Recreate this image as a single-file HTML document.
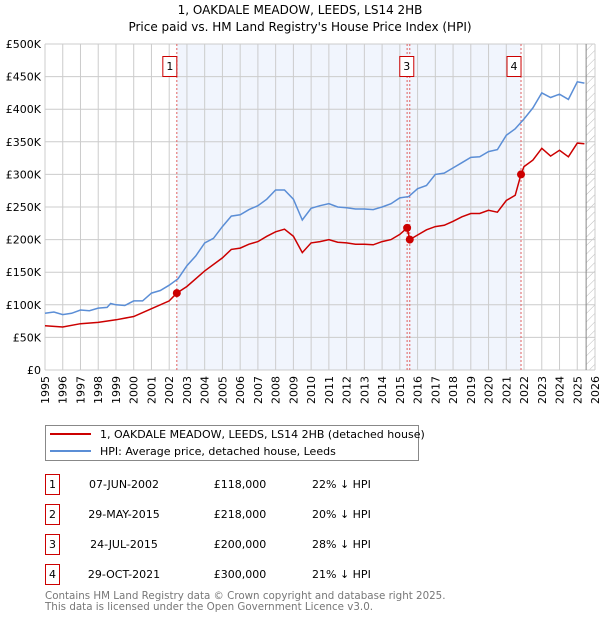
<!DOCTYPE html>
<html><head><meta charset="utf-8">
<style>
body{margin:0;background:#fff;font-family:"Liberation Sans","DejaVu Sans",sans-serif;}
svg text{font-family:"DejaVu Sans","Liberation Sans",sans-serif;}
</style></head>
<body>
<svg id="chart" width="600" height="620">
<text x="300" y="14" text-anchor="middle" font-size="12">1, OAKDALE MEADOW, LEEDS, LS14 2HB</text>
<text x="300" y="31" text-anchor="middle" font-size="12">Price paid vs. HM Land Registry's House Price Index (HPI)</text>
<g id="plot"></g>
<g>
<rect x="45.5" y="425.5" width="373" height="35" fill="#fff" stroke="#888"/>
<line x1="50" y1="434" x2="91" y2="434" stroke="#cc0000" stroke-width="2"/>
<text x="100" y="438" font-size="11">1, OAKDALE MEADOW, LEEDS, LS14 2HB (detached house)</text>
<line x1="50" y1="451" x2="91" y2="451" stroke="#5b8ed6" stroke-width="2"/>
<text x="100" y="455" font-size="11">HPI: Average price, detached house, Leeds</text>
</g>
<g id="table" font-size="11"></g>
<text x="45" y="599" font-size="10.3" fill="#777">Contains HM Land Registry data © Crown copyright and database right 2025.</text>
<text x="45" y="610" font-size="10.3" fill="#777">This data is licensed under the Open Government Licence v3.0.</text>
</svg>
<script>
const hpiYears=[1995,1995.5,1996,1996.5,1997,1997.5,1998,1998.5,1998.7,1999,1999.5,2000,2000.5,2001,2001.5,2002,2002.5,2003,2003.5,2004,2004.5,2005,2005.5,2006,2006.5,2007,2007.5,2008,2008.5,2009,2009.5,2010,2010.5,2011,2011.5,2012,2012.5,2013,2013.5,2014,2014.5,2015,2015.5,2016,2016.5,2017,2017.5,2018,2018.5,2019,2019.5,2020,2020.5,2021,2021.5,2022,2022.5,2023,2023.5,2024,2024.5,2025,2025.4];
const hpiValues=[87,89,85,87,92,91,95,96,102,100,99,106,106,118,122,130,140,160,175,195,202,220,236,238,246,252,262,276,276,262,230,248,252,255,250,249,247,247,246,250,255,264,266,278,283,300,302,310,318,326,327,335,338,360,370,385,402,425,418,423,415,442,440];
const priceYears=[1995,1996,1997,1998,1999,2000,2001,2002,2002.43,2003,2004,2005,2005.5,2006,2006.5,2007,2007.5,2008,2008.5,2009,2009.5,2010,2010.5,2011,2011.5,2012,2012.5,2013,2013.5,2014,2014.5,2015,2015.41,2015.56,2016,2016.5,2017,2017.5,2018,2018.5,2019,2019.5,2020,2020.5,2021,2021.5,2021.83,2022,2022.5,2023,2023.5,2024,2024.5,2025,2025.4];
const priceValues=[68,66,71,73,77,82,94,106,118,128,152,172,185,187,193,197,205,212,216,205,180,195,197,200,196,195,193,193,192,197,200,208,218,200,207,215,220,222,228,235,240,240,245,242,260,268,300,312,322,340,328,337,327,348,347];
const saleYears=[2002.43,2015.41,2015.56,2021.83];
const saleValues=[118,218,200,300];
const saleLabels=["1","2","3","4"];
const saleDates=["07-JUN-2002","29-MAY-2015","24-JUL-2015","29-OCT-2021"];
const salePrices=["£118,000","£218,000","£200,000","£300,000"];
const saleDiffs=["22% ↓ HPI","20% ↓ HPI","28% ↓ HPI","21% ↓ HPI"];
const yTicks=[0,50,100,150,200,250,300,350,400,450,500];
const yTickLabels=["£0","£50K","£100K","£150K","£200K","£250K","£300K","£350K","£400K","£450K","£500K"];
const xTicks=[1995,1996,1997,1998,1999,2000,2001,2002,2003,2004,2005,2006,2007,2008,2009,2010,2011,2012,2013,2014,2015,2016,2017,2018,2019,2020,2021,2022,2023,2024,2025,2026];

const NS="http://www.w3.org/2000/svg";
const L=45,R=595,T=44,B=370;
const xs=y=>L+(y-1995)/(2026-1995)*(R-L);
const ys=v=>B-v/500*(B-T);
const g=document.getElementById('plot');
function mk(tag,attrs,parent){const e=document.createElementNS(NS,tag);for(const k in attrs)e.setAttribute(k,attrs[k]);(parent||g).appendChild(e);return e;}

let e=mk('rect',{x:L,y:T,width:R-L,height:B-T,fill:'#fff'});


e=mk('rect',{x:xs(saleYears[0]),y:T,width:xs(saleYears[3])-xs(saleYears[0]),height:B-T,fill:'#eef3fc',opacity:0.8});


const defs=mk('defs',{});
const pat=mk('pattern',{id:'hatch',width:6,height:6,patternUnits:'userSpaceOnUse',patternTransform:'rotate(45)'},defs);
mk('line',{x1:0,y1:0,x2:0,y2:6,stroke:'#bbb','stroke-width':1},pat);
e=mk('rect',{x:xs(2025.5),y:T,width:R-xs(2025.5),height:B-T,fill:'url(#hatch)'});


xTicks.forEach(t=>{
  e=mk('line',{x1:xs(t),x2:xs(t),y1:T,y2:B,stroke:'#ccc','stroke-width':1});
  
  
  e=mk('text',{x:0,y:0,'font-size':11,'text-anchor':'end',transform:`translate(${xs(t)+4},${B+6}) rotate(-90)`});
  e.textContent=t;
  
  
});
yTicks.forEach((t,i)=>{
  e=mk('line',{x1:L,x2:R,y1:ys(t),y2:ys(t),stroke:'#ccc','stroke-width':1});
  
  
  e=mk('text',{x:L-4,y:ys(t)+4,'font-size':11,'text-anchor':'end'});
  e.textContent=yTickLabels[i];
  
  
});
e=mk('line',{x1:xs(2025.5),x2:xs(2025.5),y1:T,y2:B,stroke:'#888','stroke-width':1});


saleYears.forEach((s,i)=>{
  e=mk('line',{x1:xs(s),x2:xs(s),y1:T,y2:B,stroke:'#e06060','stroke-width':1,'stroke-dasharray':'2,2'});
  
  
});
function path(xa,va,color,name){
  const d=xa.map((x,i)=>(i?'L':'M')+xs(x).toFixed(1)+','+ys(va[i]).toFixed(1)).join('');
  const p=mk('path',{d:d,fill:'none',stroke:color,'stroke-width':1.5});
  
  
}
path(hpiYears,hpiValues,'#5b8ed6','hpi-line');
path(priceYears,priceValues,'#cc0000','price-line');
saleYears.forEach((s,i)=>{
  e=mk('circle',{cx:xs(s),cy:ys(saleValues[i]),r:4,fill:'#cc0000'});
  
  
  if(i===1) return;
  const bx=xs(s)-(i===2?4:8);
  e=mk('rect',{x:bx-6,y:56.5,width:14,height:20,fill:'#fff',stroke:'#cc0000'});
  
  
  e=mk('text',{x:bx+1,y:70,'font-size':11,'text-anchor':'middle'});
  e.textContent=saleLabels[i];
  
  
});
const tb=document.getElementById('table');
saleLabels.forEach((lab,i)=>{
  const y=488+i*30;
  e=mk('rect',{x:45.5,y:y-13.5,width:14,height:20,fill:'#fff',stroke:'#cc0000'},tb);
  
  
  const cells=[[52.5,lab,'middle'],[124,saleDates[i],'middle'],[240,salePrices[i],'middle'],[312,saleDiffs[i],'start']];
  cells.forEach(c=>{
    e=mk('text',{x:c[0],y:y,'text-anchor':c[2]},tb);
    e.textContent=c[1];
    
    
  });
});
</script>
</body></html>
